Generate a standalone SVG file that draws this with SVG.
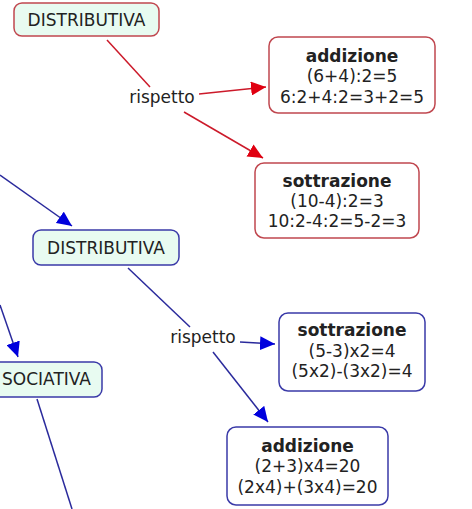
<svg xmlns="http://www.w3.org/2000/svg" width="472" height="509" viewBox="0 0 472 509">
<defs>
<style>
text{font-family:"DejaVu Sans","Verdana",sans-serif;font-size:17px;fill:#222;}
.b{font-weight:bold;}
.c{text-anchor:middle;}
.concept-r{fill:#e8fbf1;stroke:#c0474f;stroke-width:1.5;}
.concept-b{fill:#e8fbf1;stroke:#3a3aa8;stroke-width:1.5;}
.ex-r{fill:#fff;stroke:#c0474f;stroke-width:1.5;}
.ex-b{fill:#fff;stroke:#3a3aa8;stroke-width:1.5;}
.lr{stroke:#cc1a2a;stroke-width:1.5;fill:none;}
.lb{stroke:#2a2a9c;stroke-width:1.5;fill:none;}
</style>
<marker id="ar" markerUnits="userSpaceOnUse" markerWidth="15" markerHeight="14" refX="15" refY="7" orient="auto"><path d="M0,0 L15,7 L0,14 z" fill="#e00010"/></marker>
<marker id="ab" markerUnits="userSpaceOnUse" markerWidth="15" markerHeight="14" refX="15" refY="7" orient="auto"><path d="M0,0 L15,7 L0,14 z" fill="#0000dd"/></marker>
</defs>
<rect width="472" height="509" fill="#fff"/>
<g id="connectors">
<line class="lr" x1="107" y1="40" x2="150" y2="87"/>
<line class="lr" x1="199" y1="94" x2="266" y2="87" marker-end="url(#ar)"/>
<line class="lr" x1="184" y1="112" x2="263" y2="158" marker-end="url(#ar)"/>
<line class="lb" x1="0" y1="175" x2="72" y2="226" marker-end="url(#ab)"/>
<line class="lb" x1="128" y1="268" x2="190" y2="327"/>
<line class="lb" x1="240" y1="342" x2="275" y2="344" marker-end="url(#ab)"/>
<line class="lb" x1="213" y1="352" x2="268" y2="422" marker-end="url(#ab)"/>
<line class="lb" x1="0" y1="305" x2="18" y2="357" marker-end="url(#ab)"/>
<line class="lb" x1="37" y1="399" x2="72" y2="509"/>
<text x="162" y="103" class="c">rispetto</text>
<text x="203" y="343" class="c">rispetto</text>
</g>
<g id="distributiva1">
<rect class="concept-r" x="14" y="3" width="145" height="33" rx="8"/>
<text x="86.5" y="26" class="c">DISTRIBUTIVA</text>
</g>
<g id="addizione1">
<rect class="ex-r" x="269" y="37" width="166" height="76" rx="9"/>
<text x="352" y="62" class="c b">addizione</text>
<text x="352" y="82" class="c">(6+4):2=5</text>
<text x="352" y="103" class="c">6:2+4:2=3+2=5</text>
</g>
<g id="sottrazione1">
<rect class="ex-r" x="255" y="163" width="164" height="75" rx="9"/>
<text x="337" y="187" class="c b">sottrazione</text>
<text x="337" y="207" class="c">(10-4):2=3</text>
<text x="337" y="227" class="c">10:2-4:2=5-2=3</text>
</g>
<g id="distributiva2">
<rect class="concept-b" x="33" y="230" width="146" height="35" rx="8"/>
<text x="106" y="254" class="c">DISTRIBUTIVA</text>
</g>
<g id="associativa">
<rect class="concept-b" x="-20" y="362" width="122" height="35" rx="8"/>
<text x="91" y="385" text-anchor="end">SOCIATIVA</text>
</g>
<g id="sottrazione2">
<rect class="ex-b" x="279" y="313" width="146" height="78" rx="9"/>
<text x="352" y="336" class="c b">sottrazione</text>
<text x="352" y="357" class="c">(5-3)x2=4</text>
<text x="352" y="377" class="c">(5x2)-(3x2)=4</text>
</g>
<g id="addizione2">
<rect class="ex-b" x="227" y="427" width="161" height="78" rx="9"/>
<text x="307.5" y="452" class="c b">addizione</text>
<text x="307.5" y="472" class="c">(2+3)x4=20</text>
<text x="307.5" y="493" class="c">(2x4)+(3x4)=20</text>
</g>
</svg>
